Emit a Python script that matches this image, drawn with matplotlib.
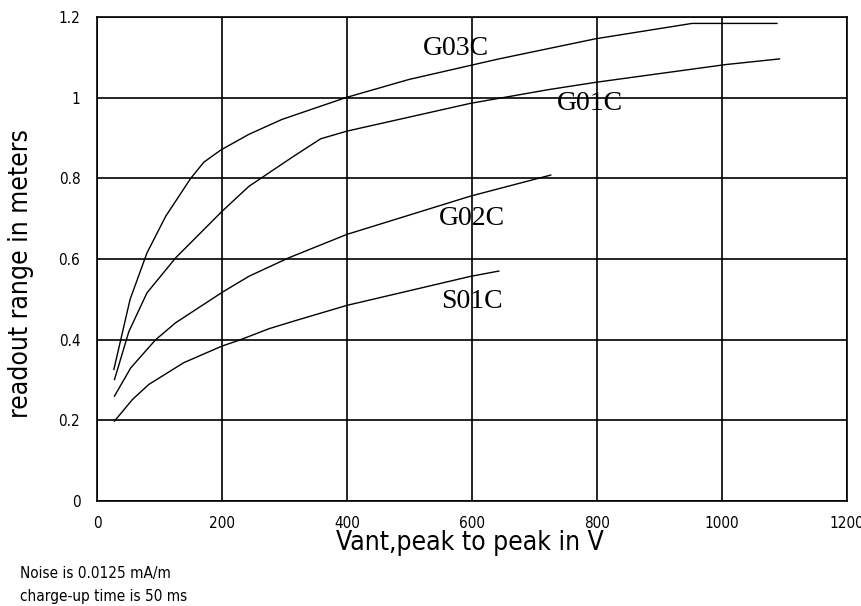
import matplotlib
matplotlib.use("Agg")
import matplotlib.pyplot as plt

# ── data (x: Vant p-p in V, y: range in m) ────────────────────────────────────
g03c_x = [27, 53, 80, 110, 150, 171, 198, 243, 296, 398, 499, 643, 798, 952, 1088]
g03c_y = [0.326, 0.50, 0.615, 0.706, 0.80, 0.84, 0.87, 0.909, 0.946, 1.0, 1.045,
          1.096, 1.146, 1.184, 1.184]

g01c_x = [28, 51, 80, 126, 200, 243, 267, 315, 358, 400, 598, 723, 798, 1006, 1092]
g01c_y = [0.301, 0.42, 0.516, 0.603, 0.718, 0.78, 0.805, 0.855, 0.898, 0.917,
          0.986, 1.02, 1.038, 1.082, 1.096]

g02c_x = [28, 54, 94, 126, 201, 243, 307, 400, 598, 726]
g02c_y = [0.26, 0.33, 0.40, 0.442, 0.518, 0.557, 0.603, 0.661, 0.756, 0.808]

s01c_x = [28, 57, 83, 139, 200, 230, 275, 315, 400, 598, 643]
s01c_y = [0.198, 0.252, 0.289, 0.343, 0.384, 0.40, 0.427, 0.446, 0.485, 0.557, 0.570]

curve_labels = ["G03C", "G01C", "G02C", "S01C"]
label_pos = [(574, 1.122), (789, 0.985), (600, 0.700), (600, 0.495)]

x_ticks = [0, 200, 400, 600, 800, 1000, 1200]
y_ticks = [0, 0.2, 0.4, 0.6, 0.8, 1.0, 1.2]
y_tick_labels = ["0", "0.2", "0.4", "0.6", "0.8", "1", "1.2"]

SERIF = ["Liberation Serif", "DejaVu Serif"]
NARROW = dict(family="DejaVu Sans", stretch="condensed")

fig = plt.figure(figsize=(8.62, 6.06), dpi=100)
ax = fig.add_axes([0.1125, 0.1733, 0.8701, 0.7987])

for xs, ys in [(g03c_x, g03c_y), (g01c_x, g01c_y), (g02c_x, g02c_y), (s01c_x, s01c_y)]:
    ax.plot(xs, ys, color="black", linewidth=1.0)

for name, (lx, ly) in zip(curve_labels, label_pos):
    ax.text(lx, ly, name, fontsize=20, family=SERIF, ha="center", va="center")

ax.set_xlim(0, 1200)
ax.set_ylim(0, 1.2)
ax.set_xticks(x_ticks)
ax.set_yticks(y_ticks)
ax.set_yticklabels(y_tick_labels)
ax.tick_params(axis="x", length=0, pad=11, labelsize=11)
ax.tick_params(axis="y", length=0, pad=12, labelsize=11)
for lbl in ax.get_xticklabels() + ax.get_yticklabels():
    lbl.set_family("DejaVu Sans")
    lbl.set_stretch("condensed")
ax.grid(True, color="black", linewidth=1.2)
for sp in ax.spines.values():
    sp.set_linewidth(1.2)

ax.set_xlabel("Vant,peak to peak in V", fontsize=19, labelpad=0, **NARROW)
ax.xaxis.set_label_coords(0.4966, -0.060)
ax.set_ylabel("readout range in meters", fontsize=19, **NARROW)
ax.yaxis.set_label_coords(-0.084, 0.47)

fig.text(0.023, 0.054, "Noise is 0.0125 mA/m", fontsize=11, va="center", **NARROW)
fig.text(0.023, 0.015, "charge-up time is 50 ms", fontsize=11, va="center", **NARROW)

fig.savefig("out.png", dpi=100)
